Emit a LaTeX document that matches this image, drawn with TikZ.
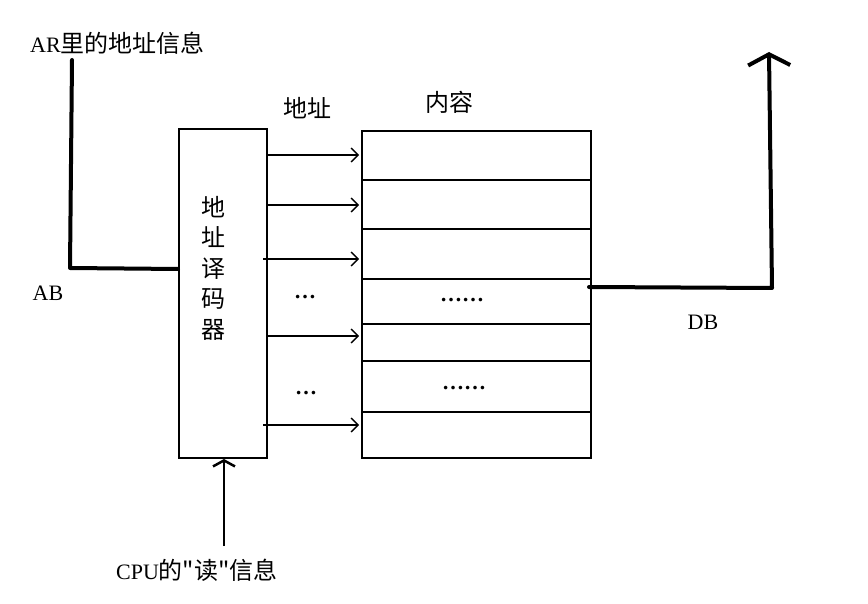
\documentclass[tikz,border=0pt]{standalone}
\usepackage{fontspec}
\setmainfont{Liberation Serif}
\newfontfamily\cjk[Scale=1.09]{Noto Sans CJK SC}
\usetikzlibrary{arrows.meta}
\begin{document}
\begin{tikzpicture}[x=1pt,y=-1pt,
  thin line/.style={line width=1.6pt},
  thick bus/.style={line width=4pt, line cap=round, line join=round},
  small arrow/.style={thin line,-{Straight Barb[length=7pt,width=14pt,line width=1.4pt]}},
  big arrow/.style={thick bus,-{Straight Barb[length=11pt,width=42pt,line width=4pt]}},
  lbl/.style={inner sep=0pt, font=\fontsize{22}{26}\selectfont},
  dots/.style={inner sep=0pt, font=\fontsize{22}{26}\selectfont\bfseries},
  clbl/.style={inner sep=0pt, font=\fontsize{22}{26}\selectfont\cjk}]
\useasboundingbox (0,0) rectangle (868,604);
% boxes
\node[draw, thin line, minimum width=88pt, minimum height=329pt, inner sep=0pt, anchor=north west] (dec) at (178,128) {};
\node[draw, thin line, minimum width=229pt, minimum height=327pt, inner sep=0pt, anchor=north west] (mem) at (361,130) {};
\node[clbl, align=center, font=\fontsize{22}{30.5}\selectfont\cjk] (dect) at (213,268) {地\\址\\译\\码\\器};
% row lines
\foreach \y/\n in {180/r1,229/r2,279/r3,324/r4,361/r5,412/r6}{
  \coordinate (\n l) at (361,\y); \coordinate (\n r) at (590,\y);
  \draw[thin line] (\n l) -- (\n r);
}
% decoder arrows
\foreach \y/\x/\n in {155/268/a1,205/266/a2,259/263/a3,336/266/a4,425/263/a5}{
  \coordinate (\n s) at (\x,\y); \coordinate (\n e) at (359,\y);
  \draw[small arrow] (\n s) -- (\n e);
}
\node[dots] (d1) at (305,297) {…};
\node[dots] (d2) at (306,393) {…};
\node[dots] (d3) at (462,300) {……};
\node[dots] (d4) at (464,388) {……};
\node[clbl] (addr) at (307,108) {地址};
\node[clbl] (cont) at (449,102) {内容};
% AR bus
\node[lbl, anchor=west] (ar) at (30,43) {AR\cjk 里的地址信息};
\coordinate (ar1) at (72,60);
\coordinate (ar2) at (70,268);
\draw[thick bus] (ar1) -- (ar2) -- (dec.west |- 0,269);
\node[lbl] (ab) at (48,293) {AB};
% CPU read
\coordinate (cpu) at (224,546);
\draw[thin line, line width=2.5pt, -{Straight Barb[length=6pt,width=22pt,line width=2.5pt]}] (cpu) -- (224,459);
\node[lbl, anchor=west] (cput) at (116,570) {CPU\cjk 的"读"信息};
% DB bus
\coordinate (db1) at (589,287);
\coordinate (db2) at (772,288);
\coordinate (db3) at (769,52);
\draw[big arrow] (db1) -- (db2) -- (db3);
\node[lbl] (db) at (703,322) {DB};
\end{tikzpicture}
\end{document}
